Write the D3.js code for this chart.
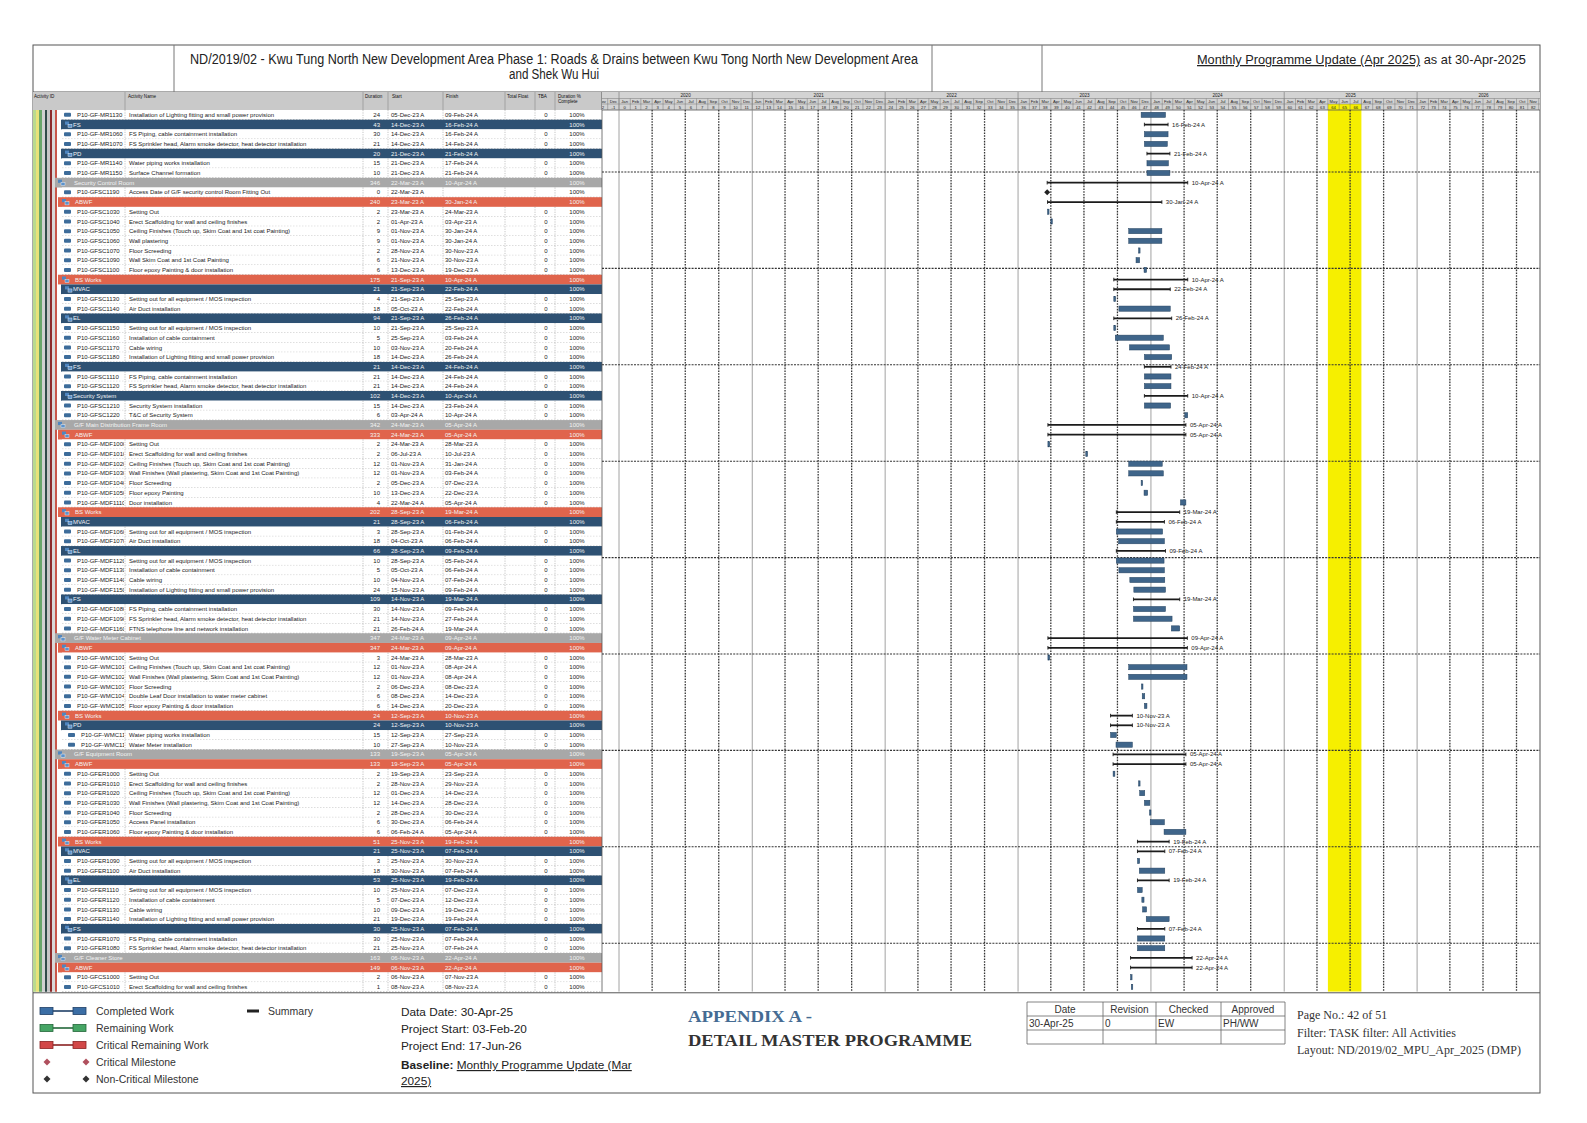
<!DOCTYPE html>
<html><head><meta charset="utf-8"><title>Detail Master Programme</title>
<script src="https://cdn.jsdelivr.net/npm/d3@7/dist/d3.min.js"></script>
<style>html,body{margin:0;padding:0;background:#fff}svg{display:block}</style>
</head><body><svg id="chart" width="1587" height="1123"></svg>
<script>
// ---------- DATA ----------
const rowKinds = ["t","b","t","t","b","t","t","g","m","r",
 "t","t","t","t","t","t","t","r","b","t",
 "t","b","t","t","t","t","b","t","t","b",
 "t","t","g","r","t","t","t","t","t","t",
 "t","r","b","t","t","b","t","t","t","t",
 "b","t","t","t","g","r","t","t","t","t",
 "t","t","r","b","t","t","g","r","t","t",
 "t","t","t","t","t","r","b","t","t","b",
 "t","t","t","t","b","t","t","g","r","t","t"];
const activityIds = ["P10-GF-MR1130","","P10-GF-MR1060","P10-GF-MR1070","","P10-GF-MR1140","P10-GF-MR1150","","P10-GFSC1190","",
 "P10-GFSC1030","P10-GFSC1040","P10-GFSC1050","P10-GFSC1060","P10-GFSC1070","P10-GFSC1090","P10-GFSC1100","","","P10-GFSC1130",
 "P10-GFSC1140","","P10-GFSC1150","P10-GFSC1160","P10-GFSC1170","P10-GFSC1180","","P10-GFSC1110","P10-GFSC1120","",
 "P10-GFSC1210","P10-GFSC1220","","","P10-GF-MDF1000","P10-GF-MDF1010","P10-GF-MDF1020","P10-GF-MDF1030","P10-GF-MDF1040","P10-GF-MDF1050",
 "P10-GF-MDF1110","","","P10-GF-MDF1060","P10-GF-MDF1070","","P10-GF-MDF1120","P10-GF-MDF1130","P10-GF-MDF1140","P10-GF-MDF1150",
 "","P10-GF-MDF1080","P10-GF-MDF1090","P10-GF-MDF1160","","","P10-GF-WMC1000","P10-GF-WMC1010","P10-GF-WMC1020","P10-GF-WMC1030",
 "P10-GF-WMC1040","P10-GF-WMC1050","","","P10-GF-WMC1100","P10-GF-WMC1110","","","P10-GFER1000","P10-GFER1010",
 "P10-GFER1020","P10-GFER1030","P10-GFER1040","P10-GFER1050","P10-GFER1060","","","P10-GFER1090","P10-GFER1100","",
 "P10-GFER1110","P10-GFER1120","P10-GFER1130","P10-GFER1140","","P10-GFER1070","P10-GFER1080","","","P10-GFCS1000","P10-GFCS1010"];
const activityNames = [
 "Installation of Lighting fitting and small power provision","FS","FS Piping, cable containment installation","FS Sprinkler head, Alarm smoke detector, heat detector installation","PD","Water piping works installation","Surface Channel formation","Security Control Room","Access Date of G/F security control Room Fitting Out","ABWF",
 "Setting Out","Erect Scaffolding for wall and ceiling finishes","Ceiling Finishes (Touch up, Skim Coat and 1st coat Painting)","Wall plastering","Floor Screeding","Wall Skim Coat and 1st Coat Painting","Floor epoxy Painting & door installation","BS Works","MVAC","Setting out for all equipment / MOS inspection",
 "Air Duct installation","EL","Setting out for all equipment / MOS inspection","Installation of cable containment","Cable wiring","Installation of Lighting fitting and small power provision","FS","FS Piping, cable containment installation","FS Sprinkler head, Alarm smoke detector, heat detector installation","Security System",
 "Security System installation","T&C of Security System","G/F Main Distribution Frame Room","ABWF","Setting Out","Erect Scaffolding for wall and ceiling finishes","Ceiling Finishes (Touch up, Skim Coat and 1st coat Painting)","Wall Finishes (Wall plastering, Skim Coat and 1st Coat Painting)","Floor Screeding","Floor epoxy Painting",
 "Door installation","BS Works","MVAC","Setting out for all equipment / MOS inspection","Air Duct installation","EL","Setting out for all equipment / MOS inspection","Installation of cable containment","Cable wiring","Installation of Lighting fitting and small power provision",
 "FS","FS Piping, cable containment installation","FS Sprinkler head, Alarm smoke detector, heat detector installation","FTNS telephone line and network installation","G/F Water Meter Cabinet","ABWF","Setting Out","Ceiling Finishes (Touch up, Skim Coat and 1st coat Painting)","Wall Finishes (Wall plastering, Skim Coat and 1st Coat Painting)","Floor Screeding",
 "Double Leaf Door installation to water meter cabinet","Floor epoxy Painting & door installation","BS Works","PD","Water piping works installation","Water Meter installation","G/F Equipment Room","ABWF","Setting Out","Erect Scaffolding for wall and ceiling finishes",
 "Ceiling Finishes (Touch up, Skim Coat and 1st coat Painting)","Wall Finishes (Wall plastering, Skim Coat and 1st Coat Painting)","Floor Screeding","Access Panel installation","Floor epoxy Painting & door installation","BS Works","MVAC","Setting out for all equipment / MOS inspection","Air Duct installation","EL",
 "Setting out for all equipment / MOS inspection","Installation of cable containment","Cable wiring","Installation of Lighting fitting and small power provision","FS","FS Piping, cable containment installation","FS Sprinkler head, Alarm smoke detector, heat detector installation","G/F Cleaner Store","ABWF","Setting Out","Erect Scaffolding for wall and ceiling finishes"];
const durations = [24,43,30,21,20,15,10,346,0,240, 2,2,9,9,2,6,6,175,21,4, 18,94,10,5,10,18,21,21,21,102,
 15,6,342,333,2,2,12,12,2,10, 4,202,21,3,18,66,10,5,10,24, 109,30,21,21,347,347,3,12,12,2,
 6,6,24,24,15,10,133,133,2,2, 12,12,2,6,6,51,21,3,18,53, 10,5,10,21,30,30,21,163,149,2,1];
const startDates = ["05-Dec-23","14-Dec-23","14-Dec-23","14-Dec-23","21-Dec-23","21-Dec-23","21-Dec-23","22-Mar-23","22-Mar-23","23-Mar-23",
 "23-Mar-23","01-Apr-23","01-Nov-23","01-Nov-23","28-Nov-23","21-Nov-23","13-Dec-23","21-Sep-23","21-Sep-23","21-Sep-23",
 "05-Oct-23","21-Sep-23","21-Sep-23","25-Sep-23","03-Nov-23","14-Dec-23","14-Dec-23","14-Dec-23","14-Dec-23","14-Dec-23",
 "14-Dec-23","03-Apr-24","24-Mar-23","24-Mar-23","24-Mar-23","06-Jul-23","01-Nov-23","01-Nov-23","05-Dec-23","13-Dec-23",
 "22-Mar-24","28-Sep-23","28-Sep-23","28-Sep-23","04-Oct-23","28-Sep-23","28-Sep-23","05-Oct-23","04-Nov-23","15-Nov-23",
 "14-Nov-23","14-Nov-23","14-Nov-23","26-Feb-24","24-Mar-23","24-Mar-23","24-Mar-23","01-Nov-23","01-Nov-23","06-Dec-23",
 "08-Dec-23","14-Dec-23","12-Sep-23","12-Sep-23","12-Sep-23","27-Sep-23","19-Sep-23","19-Sep-23","19-Sep-23","28-Nov-23",
 "01-Dec-23","14-Dec-23","28-Dec-23","30-Dec-23","06-Feb-24","25-Nov-23","25-Nov-23","25-Nov-23","30-Nov-23","25-Nov-23",
 "25-Nov-23","07-Dec-23","09-Dec-23","19-Dec-23","25-Nov-23","25-Nov-23","25-Nov-23","06-Nov-23","06-Nov-23","06-Nov-23","08-Nov-23"];
const finishDates = ["09-Feb-24","16-Feb-24","16-Feb-24","14-Feb-24","21-Feb-24","17-Feb-24","21-Feb-24","10-Apr-24","","30-Jan-24",
 "24-Mar-23","03-Apr-23","30-Jan-24","30-Jan-24","30-Nov-23","30-Nov-23","19-Dec-23","10-Apr-24","22-Feb-24","25-Sep-23",
 "22-Feb-24","26-Feb-24","25-Sep-23","03-Feb-24","20-Feb-24","26-Feb-24","24-Feb-24","24-Feb-24","24-Feb-24","10-Apr-24",
 "23-Feb-24","10-Apr-24","05-Apr-24","05-Apr-24","28-Mar-23","10-Jul-23","31-Jan-24","03-Feb-24","07-Dec-23","22-Dec-23",
 "05-Apr-24","19-Mar-24","06-Feb-24","01-Feb-24","06-Feb-24","09-Feb-24","05-Feb-24","06-Feb-24","07-Feb-24","09-Feb-24",
 "19-Mar-24","09-Feb-24","27-Feb-24","19-Mar-24","09-Apr-24","09-Apr-24","28-Mar-23","08-Apr-24","08-Apr-24","08-Dec-23",
 "14-Dec-23","20-Dec-23","10-Nov-23","10-Nov-23","27-Sep-23","10-Nov-23","05-Apr-24","05-Apr-24","23-Sep-23","29-Nov-23",
 "14-Dec-23","28-Dec-23","30-Dec-23","06-Feb-24","05-Apr-24","19-Feb-24","07-Feb-24","30-Nov-23","07-Feb-24","19-Feb-24",
 "07-Dec-23","12-Dec-23","19-Dec-23","19-Feb-24","07-Feb-24","07-Feb-24","07-Feb-24","22-Apr-24","22-Apr-24","07-Nov-23","08-Nov-23"];
const pctComplete = "100%";
const tableHeaders = ["Activity ID","Activity Name","Duration","Start","Finish","Total Float","TBA","Duration %|Complete"];
const yearLabels = ["2020","2021","2022","2023","2024","2025","2026"];
const highlightPeriod = ["01-May-25","01-Aug-25"];
const legendItems = ["Completed Work","Remaining Work","Critical Remaining Work"];
const milestoneLegend = ["Critical Milestone","Non-Critical Milestone"];
const infoLines = ["Data Date: 30-Apr-25","Project Start: 03-Feb-20","Project End: 17-Jun-26"];
const approvalHead = ["Date","Revision","Checked","Approved"];
const approvalRow = ["30-Apr-25","0","EW","PH/WW"];
const pageLines = ["Page No.: 42 of 51","Filter: TASK filter: All Activities","Layout: ND/2019/02_MPU_Apr_2025 (DMP)"];

// ---------- SETUP ----------
const svg = d3.select("#chart");
const SANS = "'Liberation Sans', Arial, sans-serif";
const NARROW = "'Liberation Sans Narrow','Arial Narrow','Liberation Sans',sans-serif";
const SERIF = "'Liberation Serif','Times New Roman',serif";
const BOX = {x0:33, x1:1540, y0:45, y1:1093};
const TITLE_B = 92, HEAD_B = 110, ROW_H = 9.69, GX0 = 602;
const n = rowKinds.length;
const BODY_B = HEAD_B + n*ROW_H;
const parse = d3.timeParse("%d-%b-%y");
const yRow = d3.scaleBand().domain(d3.range(n)).range([HEAD_B, BODY_B]);
const xTime = d3.scaleTime().domain([new Date(2020,0,1), new Date(2027,0,1)]).range([619, 1550]);
const COL = {id:125, dur:363, start:388, finish:443, tf:505, tba:535, pct:555, end:GX0};

const defs = svg.append("defs");
defs.append("clipPath").attr("id","gclip").append("rect").attr("x",GX0).attr("y",TITLE_B).attr("width",BOX.x1-GX0).attr("height",BODY_B-TITLE_B);
defs.append("clipPath").attr("id","idclip").append("rect").attr("x",33).attr("y",HEAD_B).attr("width",COL.id-1-33).attr("height",BODY_B-HEAD_B);
defs.append("clipPath").attr("id","nmclip").append("rect").attr("x",33).attr("y",HEAD_B).attr("width",COL.dur-1-33).attr("height",BODY_B-HEAD_B);

// ---------- TITLE BLOCK ----------
svg.append("rect").attr("x",BOX.x0).attr("y",BOX.y0).attr("width",BOX.x1-BOX.x0).attr("height",BOX.y1-BOX.y0).attr("fill","none").attr("stroke","#555").attr("stroke-width",1);
svg.append("line").attr("x1",BOX.x0).attr("x2",BOX.x1).attr("y1",TITLE_B).attr("y2",TITLE_B).attr("stroke","#555");
[174,932,1042].forEach(x=>svg.append("line").attr("x1",x).attr("x2",x).attr("y1",BOX.y0).attr("y2",TITLE_B).attr("stroke","#777"));
svg.append("text").attr("x",554).attr("y",64).attr("text-anchor","middle").attr("font-family",NARROW).attr("font-size",14).attr("fill","#222")
  .attr("textLength",728).attr("lengthAdjust","spacingAndGlyphs")
  .text("ND/2019/02 - Kwu Tung North New Development Area Phase 1: Roads & Drains between Kwu Tong North New Development Area");
svg.append("text").attr("x",554).attr("y",78.5).attr("text-anchor","middle").attr("font-family",NARROW).attr("font-size",14).attr("fill","#222")
  .attr("textLength",90).attr("lengthAdjust","spacingAndGlyphs").text("and Shek Wu Hui");
const mt = svg.append("text").attr("x",1197).attr("y",64).attr("font-family",SANS).attr("font-size",14).attr("fill","#222");
mt.append("tspan").attr("text-decoration","underline").text("Monthly Programme Update (Apr 2025)");
mt.append("tspan").text(" as at 30-Apr-2025");
const mtLen = mt.node().getComputedTextLength();
if (mtLen > 0) mt.attr("font-size", 14*329/mtLen);

// ---------- TABLE HEADER ----------
svg.append("rect").attr("x",BOX.x0).attr("y",TITLE_B).attr("width",GX0-BOX.x0).attr("height",HEAD_B-TITLE_B).attr("fill","#c9c9c9");
const hx = [34,128,365,392,446,507,538,558];
tableHeaders.forEach((h,i)=>{
  const parts = h.split("|");
  parts.forEach((p,j)=>svg.append("text").attr("x",hx[i]).attr("y",97.5+j*5).attr("font-family",SANS).attr("font-size",4.6).attr("fill","#111").text(p));
});
[COL.id,COL.dur,COL.start,COL.finish,COL.tf,COL.tba,COL.pct,COL.end].forEach(x=>
  svg.append("line").attr("x1",x).attr("x2",x).attr("y1",TITLE_B).attr("y2",HEAD_B).attr("stroke","#888").attr("stroke-width",0.6));

// ---------- LEFT STRIPES ----------
const stripes = [["#b9da8f",33,36],["#e8e27a",36,39],["#68a66a",39,42],["#d0d0d0",42,45],["#2f4a48",45,47],["#c6c6c6",47,50],["#8d2b2b",50,52],["#d8d8d8",52,55],["#c9574a",55,57]];
stripes.forEach(s=>svg.append("rect").attr("x",s[1]).attr("y",HEAD_B).attr("width",s[2]-s[1]).attr("height",BODY_B-HEAD_B).attr("fill",s[0]));

// ---------- TABLE ROWS ----------
const fills = {g:"#a8a8a8", r:"#e0644c", b:"#2e5173", t:"#ffffff", m:"#ffffff"};
const lefts = {g:55, r:58, b:61, t:62, m:62};
const nameX = {g:74, r:75, b:73};
const iconX = {g:58, r:62, b:65};
const tbody = svg.append("g").attr("font-family",SANS).attr("font-size",6);
rowKinds.forEach((k,i)=>{
  const y0 = yRow(i), h = yRow.bandwidth(), base = y0 + h/2 + 2.1;
  const isSum = "grb".includes(k);
  const tc = isSum ? "#f3f3f3" : "#1a1a1a";
  tbody.append("rect").attr("x",lefts[k]).attr("y",y0).attr("width",COL.end-lefts[k]).attr("height",h).attr("fill",fills[k]);
  if (!isSum) {
    tbody.append("line").attr("x1",62).attr("x2",COL.end).attr("y1",y0+h).attr("y2",y0+h).attr("stroke","#999").attr("stroke-width",0.6).attr("stroke-dasharray","1.5,1.5");
    [COL.id,COL.dur,COL.start,COL.finish,COL.tf,COL.tba,COL.pct].forEach(x=>
      tbody.append("line").attr("x1",x).attr("x2",x).attr("y1",y0).attr("y2",y0+h).attr("stroke","#888").attr("stroke-width",0.5).attr("stroke-dasharray","1.2,1.2"));
    const ix = activityIds[i].indexOf("WMC11")>=0 ? 68 : 64;
    tbody.append("rect").attr("x",ix).attr("y",y0+h/2-2).attr("width",7).attr("height",4).attr("rx",1).attr("fill","#3d6c9a");
    tbody.append("text").attr("x",ix+13).attr("y",base).attr("fill",tc).attr("clip-path","url(#idclip)").text(activityIds[i]);
    tbody.append("text").attr("x",129).attr("y",base).attr("fill",tc).attr("clip-path","url(#nmclip)").text(activityNames[i]);
    tbody.append("text").attr("x",COL.tba+11).attr("y",base).attr("text-anchor","middle").attr("fill",tc).text(finishDates[i] ? "0" : "");
  } else {
    tbody.append("rect").attr("x",iconX[k]).attr("y",y0+1.8).attr("width",4).attr("height",3.2).attr("fill","#4f86c0");
    tbody.append("rect").attr("x",iconX[k]+3).attr("y",y0+4.5).attr("width",4).attr("height",3.2).attr("fill","#5b92cc").attr("stroke","#fff").attr("stroke-width",0.4);
    tbody.append("text").attr("x",nameX[k]).attr("y",base).attr("fill",tc).attr("clip-path","url(#nmclip)").text(activityNames[i]);
  }
  tbody.append("text").attr("x",380).attr("y",base).attr("text-anchor","end").attr("fill",tc).text(durations[i]);
  tbody.append("text").attr("x",391).attr("y",base).attr("fill",tc).text(startDates[i] + " A");
  tbody.append("text").attr("x",445).attr("y",base).attr("fill",tc).text(finishDates[i] ? finishDates[i] + " A" : "");
  tbody.append("text").attr("x",577).attr("y",base).attr("text-anchor","middle").attr("fill",tc).text(pctComplete);
});
svg.append("line").attr("x1",GX0).attr("x2",GX0).attr("y1",TITLE_B).attr("y2",BODY_B).attr("stroke","#555").attr("stroke-width",0.8);

// ---------- GANTT HEADER ----------
const gh = svg.append("g").attr("clip-path","url(#gclip)").attr("font-family",SANS);
gh.append("rect").attr("x",GX0).attr("y",TITLE_B).attr("width",BOX.x1-GX0).attr("height",HEAD_B-TITLE_B).attr("fill","#d3d3d3");
const months = d3.timeMonth.range(new Date(2019,10,1), new Date(2027,0,1));
const yr = d3.timeYear.range(new Date(2020,0,1), new Date(2027,0,1));
const hl0 = parse(highlightPeriod[0]), hl1 = parse(highlightPeriod[1]);
gh.append("rect").attr("x",xTime(hl0)).attr("y",104).attr("width",xTime(hl1)-xTime(hl0)).attr("height",BODY_B-104).attr("fill","#f6ef00");
months.forEach(m=>{
  const x0 = xTime(m), x1 = xTime(d3.timeMonth.offset(m,1));
  gh.append("line").attr("x1",x0).attr("x2",x0).attr("y1",98.5).attr("y2",HEAD_B).attr("stroke","#777").attr("stroke-width",0.5);
  gh.append("text").attr("x",(x0+x1)/2).attr("y",103).attr("text-anchor","middle").attr("font-size",4.2).attr("fill","#222").text(d3.timeFormat("%b")(m));
  const num = (m.getFullYear()-2020)*12 + m.getMonth();
  gh.append("text").attr("x",(x0+x1)/2).attr("y",108.8).attr("text-anchor","middle").attr("font-size",4.2).attr("fill","#222").text(num);
});
yr.forEach((d,i)=>{
  const x0 = xTime(d), x1 = xTime(d3.timeYear.offset(d,1));
  gh.append("text").attr("x",(x0+x1)/2).attr("y",97).attr("text-anchor","middle").attr("font-size",4.6).attr("fill","#222").text(yearLabels[i]);
});
[98.5,104].forEach(yy=>gh.append("line").attr("x1",GX0).attr("x2",BOX.x1).attr("y1",yy).attr("y2",yy).attr("stroke","#777").attr("stroke-width",0.5));
gh.append("line").attr("x1",GX0).attr("x2",BOX.x1).attr("y1",HEAD_B).attr("y2",HEAD_B).attr("stroke","#555").attr("stroke-width",0.8);

// ---------- GANTT GRID ----------
yr.forEach(d=>gh.append("line").attr("x1",xTime(d)).attr("x2",xTime(d)).attr("y1",TITLE_B).attr("y2",BODY_B).attr("stroke","#8a8a8a").attr("stroke-width",0.8));
months.filter(m=>m.getMonth()%3===0 && m.getMonth()!==0).forEach(m=>
  gh.append("line").attr("x1",xTime(m)).attr("x2",xTime(m)).attr("y1",HEAD_B).attr("y2",BODY_B).attr("stroke","#333").attr("stroke-width",1.3).attr("stroke-dasharray","1.6,1.2"));
d3.range(9).forEach(k=>{
  const yy = 172 + k*96.4;
  gh.append("line").attr("x1",GX0).attr("x2",BOX.x1).attr("y1",yy).attr("y2",yy).attr("stroke","#333").attr("stroke-width",1.1).attr("stroke-dasharray","2,1.2");
});

// ---------- BARS ----------
const bars = svg.append("g").attr("clip-path","url(#gclip)").attr("font-family",SANS).attr("font-size",6);
rowKinds.forEach((k,i)=>{
  const cy = yRow(i) + yRow.bandwidth()/2;
  const s = parse(startDates[i]);
  if (k === "m") {
    const x = xTime(s);
    bars.append("path").attr("d",`M${x},${cy-3}L${x+3},${cy}L${x},${cy+3}L${x-3},${cy}Z`).attr("fill","#222");
    return;
  }
  const f = d3.timeDay.offset(parse(finishDates[i]),1);
  const xs = xTime(s), xf = xTime(f);
  if (k === "t") {
    bars.append("rect").attr("x",xs).attr("y",cy-2.6).attr("width",Math.max(1.5,xf-xs)).attr("height",5.2)
      .attr("fill","#3f658a").attr("stroke","#25425f").attr("stroke-width",0.5);
  } else {
    bars.append("line").attr("x1",xs).attr("x2",xf).attr("y1",cy).attr("y2",cy).attr("stroke","#1b1b1b").attr("stroke-width",1.8);
    [xs,xf].forEach(x=>bars.append("line").attr("x1",x).attr("x2",x).attr("y1",cy-1.8).attr("y2",cy+1.8).attr("stroke","#1b1b1b").attr("stroke-width",0.9));
    bars.append("text").attr("x",xf+4).attr("y",cy+2.1).attr("fill","#222").text(finishDates[i] + " A");
  }
});
svg.append("line").attr("x1",BOX.x0).attr("x2",BOX.x1).attr("y1",BODY_B+1).attr("y2",BODY_B+1).attr("stroke","#555").attr("stroke-width",1);

// ---------- LEGEND ----------
const lg = svg.append("g").attr("font-family",SANS).attr("font-size",10.5).attr("fill","#333");
const legColors = [["#3b6ea5","#1f3f66"],["#46a565","#24683a"],["#d24848","#8a2222"]];
legendItems.forEach((t,i)=>{
  const yy = 1011 + i*17;
  lg.append("line").attr("x1",50).attr("x2",76).attr("y1",yy).attr("y2",yy).attr("stroke",legColors[i][1]).attr("stroke-width",1.6);
  [40,73].forEach(x=>lg.append("rect").attr("x",x).attr("y",yy-3.5).attr("width",13).attr("height",7).attr("fill",legColors[i][0]).attr("stroke",legColors[i][1]).attr("stroke-width",0.8));
  lg.append("text").attr("x",96).attr("y",yy+3.8).text(t);
});
lg.append("rect").attr("x",247).attr("y",1009.5).attr("width",12).attr("height",3).attr("fill","#222");
lg.append("text").attr("x",268).attr("y",1014.8).text("Summary");
const msCol = ["#b0505e","#333"];
milestoneLegend.forEach((t,i)=>{
  const yy = 1062 + i*17;
  [47,86].forEach(x=>lg.append("path").attr("d",`M${x},${yy-3.5}L${x+3.5},${yy}L${x},${yy+3.5}L${x-3.5},${yy}Z`).attr("fill",msCol[i]));
  lg.append("text").attr("x",96).attr("y",yy+3.8).text(t);
});

const info = svg.append("g").attr("font-family",SANS).attr("font-size",11.8).attr("fill","#222");
infoLines.forEach((t,i)=>info.append("text").attr("x",401).attr("y",1016+i*17).text(t));
const bl = info.append("text").attr("x",401).attr("y",1069);
bl.append("tspan").attr("font-weight","bold").text("Baseline: ");
bl.append("tspan").attr("text-decoration","underline").text("Monthly Programme Update (Mar");
info.append("text").attr("x",401).attr("y",1085).attr("text-decoration","underline").text("2025)");

svg.append("text").attr("x",688).attr("y",1022).attr("font-family",SERIF).attr("font-weight","bold").attr("font-size",16.5).attr("fill","#456b93")
  .attr("textLength",124).attr("lengthAdjust","spacingAndGlyphs").text("APPENDIX A -");
svg.append("text").attr("x",688).attr("y",1046).attr("font-family",SERIF).attr("font-weight","bold").attr("font-size",16.5).attr("fill","#333")
  .attr("textLength",284).attr("lengthAdjust","spacingAndGlyphs").text("DETAIL MASTER PROGRAMME");

const tcols = [1027,1103,1156,1221,1285], trows = [1002,1016,1030,1044];
const tb = svg.append("g").attr("font-family",SANS).attr("font-size",10).attr("fill","#333");
trows.forEach(yy=>tb.append("line").attr("x1",tcols[0]).attr("x2",tcols[4]).attr("y1",yy).attr("y2",yy).attr("stroke","#666").attr("stroke-width",0.8));
tcols.forEach(xx=>tb.append("line").attr("x1",xx).attr("x2",xx).attr("y1",trows[0]).attr("y2",trows[3]).attr("stroke","#666").attr("stroke-width",0.8));
approvalHead.forEach((t,i)=>tb.append("text").attr("x",(tcols[i]+tcols[i+1])/2).attr("y",1012.5).attr("text-anchor","middle").text(t));
approvalRow.forEach((t,i)=>tb.append("text").attr("x",tcols[i]+2).attr("y",1026.5).text(t));

const pg = svg.append("g").attr("font-family",SERIF).attr("font-size",12).attr("fill","#333");
pageLines.forEach((t,i)=>pg.append("text").attr("x",1297).attr("y",1019+i*17.5).text(t));
</script></body></html>
